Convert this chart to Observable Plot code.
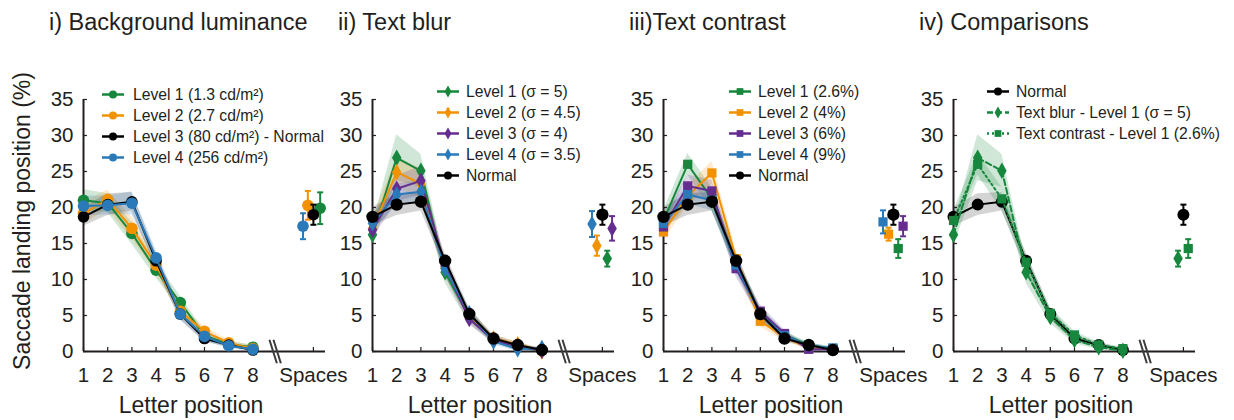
<!DOCTYPE html>
<html><head><meta charset="utf-8">
<script src="https://cdn.jsdelivr.net/npm/d3@7"></script>
<script src="https://cdn.jsdelivr.net/npm/@observablehq/plot@0.6"></script>
<style>
body{margin:0;background:#fff;font-family:"Liberation Sans",Arial,sans-serif;color:#231f20}
#root{position:relative;width:1234px;height:420px;overflow:hidden;background:#fff}
.abs{position:absolute;white-space:nowrap}
.title{font-size:23.5px;line-height:24px;top:10px}
.xlabel{font-size:23px;line-height:23px;top:394px;transform:translateX(-50%)}
.ylabel{font-size:23px;line-height:23px;left:22px;top:221px;transform:translate(-50%,-50%) rotate(-90deg)}
.leg{font-size:15.7px;line-height:21px}
.leg .row{position:relative;height:21px}
.leg svg{position:absolute;top:0}
.leg span{position:absolute;top:0}
</style></head><body><div id="root"></div><script>
// ---------- data ----------
const letterPositions = [1, 2, 3, 4, 5, 6, 7, 8];
const spacesLabel = "Spaces";
const yTicks = [0, 5, 10, 15, 20, 25, 30, 35];
const panelTitles = ["i) Background luminance", "ii) Text blur", "iii)Text contrast", "iv) Comparisons"];
const xAxisLabel = "Letter position";
const yAxisLabel = "Saccade landing position (%)";

// Normal (= Level 3 of background luminance)
const normal      = [18.7, 20.4, 20.8, 12.6, 5.2, 1.8, 0.9, 0.2];
const normalSE    = [1.3, 1.5, 1.3, 1.0, 0.8, 0.5, 0.3, 0.2];
const normalSpaces = [19.0, 1.4];

// i) Background luminance
const lum1   = [21.0, 20.6, 16.4, 11.3, 6.8, 2.2, 1.0, 0.6];
const lum1SE = [1.5, 1.3, 1.5, 1.1, 0.9, 0.6, 0.4, 0.3];
const lum1Spaces = [19.9, 2.2];
const lum2   = [19.2, 21.1, 17.1, 12.0, 5.6, 2.8, 1.2, 0.4];
const lum2SE = [1.5, 1.3, 1.5, 1.1, 0.8, 0.6, 0.4, 0.3];
const lum2Spaces = [20.3, 2.0];
const lum4   = [20.2, 20.3, 20.6, 13.0, 5.2, 2.1, 0.8, 0.3];
const lum4SE = [1.4, 1.3, 1.6, 1.1, 0.8, 0.6, 0.4, 0.3];
const lum4Spaces = [17.4, 1.8];

// ii) Text blur
const blur1   = [16.2, 26.9, 25.1, 11.0, 4.8, 1.6, 0.6, 0.1];
const blur1SE = [1.5, 3.2, 2.3, 1.5, 0.9, 0.5, 0.4, 0.2];
const blur1Spaces = [12.9, 1.1];
const blur2   = [17.1, 24.9, 23.3, 11.6, 5.0, 1.8, 1.0, 0.0];
const blur2SE = [1.3, 2.2, 2.0, 1.2, 0.8, 0.5, 0.4, 0.2];
const blur2Spaces = [14.7, 1.4];
const blur3   = [16.9, 22.6, 23.7, 11.8, 4.5, 1.6, 0.7, 0.1];
const blur3SE = [1.3, 1.8, 2.0, 1.2, 0.8, 0.5, 0.3, 0.2];
const blur3Spaces = [17.1, 1.7];
const blur4   = [17.8, 21.8, 22.2, 11.5, 5.3, 1.4, 0.3, 0.5];
const blur4SE = [1.2, 1.5, 1.5, 1.1, 0.8, 0.5, 0.3, 0.2];
const blur4Spaces = [17.7, 1.8];

// iii) Text contrast
const con1   = [18.2, 26.0, 21.2, 12.4, 5.3, 2.3, 0.9, 0.4];
const con1SE = [1.3, 1.5, 1.6, 1.2, 0.8, 0.5, 0.3, 0.2];
const con1Spaces = [14.3, 1.3];
const con2   = [16.6, 21.6, 24.8, 12.9, 4.2, 2.0, 0.5, 0.3];
const con2SE = [1.2, 1.4, 1.6, 1.2, 0.8, 0.5, 0.3, 0.2];
const con2Spaces = [16.3, 0.9];
const con3   = [17.3, 23.0, 22.3, 11.5, 5.6, 2.5, 0.3, 0.3];
const con3SE = [1.2, 1.5, 1.5, 1.2, 0.9, 0.5, 0.3, 0.2];
const con3Spaces = [17.4, 1.4];
const con4   = [17.8, 21.8, 21.0, 12.0, 5.2, 2.2, 0.8, 0.5];
const con4SE = [1.2, 1.4, 1.4, 1.1, 0.8, 0.5, 0.3, 0.2];
const con4Spaces = [18.0, 1.6];

// ---------- styles / layout ----------
const C = {green: "#16873d", orange: "#f39200", purple: "#662d91", blue: "#2a7ab9", black: "#000000"};
const spacesPos = 10.5;     // x position of the "Spaces" category
const breakPos = 8.92;      // axis break marker
const xDomain = [1, 11];
const yDomain = [0, 35];
const axisPx = [83, 372, 663, 953];
const ML = 50, MR = 8, MT = 99, MB = 69, H = 420, FW = 242;
const axisColor = "#231f20";

function ser(name, values, se, spaces, color, symbol, off, dash, r) {
  return {name, values, se, spaces, color, symbol, off, dash: dash || null, r};
}
const panels = [
  {legendTop: 84, legendDx: [17, 50], series: [
    ser("Level 1 (1.3 cd/m²)", lum1, lum1SE, lum1Spaces, C.green, "circle", 0.28, null, 5.8),
    ser("Level 2 (2.7 cd/m²)", lum2, lum2SE, lum2Spaces, C.orange, "circle", -0.23, null, 5.8),
    ser("Level 3 (80 cd/m²) - Normal", normal, normalSE, normalSpaces, C.black, "circle", 0, null, 5.8),
    ser("Level 4 (256 cd/m²)", lum4, lum4SE, lum4Spaces, C.blue, "circle", -0.43, null, 5.8)]},
  {legendTop: 81, legendDx: [63, 94], series: [
    ser("Level 1 (σ = 5)", blur1, blur1SE, blur1Spaces, C.green, "diamond", 0.2, null, 5),
    ser("Level 2 (σ = 4.5)", blur2, blur2SE, blur2Spaces, C.orange, "diamond", -0.23, null, 5),
    ser("Level 3 (σ = 4)", blur3, blur3SE, blur3Spaces, C.purple, "diamond", 0.4, null, 5),
    ser("Level 4 (σ = 3.5)", blur4, blur4SE, blur4Spaces, C.blue, "diamond", -0.43, null, 5),
    ser("Normal", normal, normalSE, normalSpaces, C.black, "circle", 0, null, 6.2)]},
  {legendTop: 81, legendDx: [64, 95], series: [
    ser("Level 1 (2.6%)", con1, con1SE, con1Spaces, C.green, "square", 0.2, null, 5.2),
    ser("Level 2 (4%)", con2, con2SE, con2Spaces, C.orange, "square", -0.2, null, 5.2),
    ser("Level 3 (6%)", con3, con3SE, con3Spaces, C.purple, "square", 0.4, null, 5.2),
    ser("Level 4 (9%)", con4, con4SE, con4Spaces, C.blue, "square", -0.43, null, 5.2),
    ser("Normal", normal, normalSE, normalSpaces, C.black, "circle", 0, null, 6.2)]},
  {legendTop: 81, legendDx: [32, 63], series: [
    ser("Normal", normal, normalSE, normalSpaces, C.black, "circle", 0, null, 6),
    ser("Text blur - Level 1 (σ = 5)", blur1, blur1SE, blur1Spaces, C.green, "diamond", -0.22, "6,3", 5),
    ser("Text contrast  - Level 1 (2.6%)", con1, con1SE, con1Spaces, C.green, "square", 0.2, "2,3", 5.2)]}
];

const capSymbol = {draw(ctx, size) { const w = Math.sqrt(size / Math.PI); ctx.moveTo(-w, 0); ctx.lineTo(w, 0); }};
const breakSymbol = {draw(ctx) { ctx.moveTo(-5.7, -11.7); ctx.lineTo(1.7, 11.7); ctx.moveTo(-1.7, -11.7); ctx.lineTo(5.7, 11.7); }};

const root = document.getElementById("root");
const xTickValues = [...letterPositions, spacesPos];

panels.forEach((p, i) => {
  const marks = [];
  const rowsOf = s => s.values.map((v, k) => ({x: letterPositions[k], y: v, lo: v - s.se[k], hi: v + s.se[k]}));
  // confidence bands
  p.series.forEach(s => marks.push(Plot.areaY(rowsOf(s), {x: "x", y1: "lo", y2: "hi", fill: s.color, fillOpacity: s.color === C.black ? 0.17 : 0.2})));
  // axes lines and inward ticks
  marks.push(Plot.ruleY([0], {stroke: axisColor, strokeWidth: 2}));
  marks.push(Plot.ruleX([xDomain[0]], {stroke: axisColor, strokeWidth: 2}));
  marks.push(Plot.ruleX(xTickValues, {x: d => d, stroke: axisColor, strokeWidth: 1.2, insetTop: (H - MT - MB) - 4}));
  marks.push(Plot.ruleY(yTicks, {y: d => d, stroke: axisColor, strokeWidth: 1.2, insetRight: FW - 4}));
  marks.push(Plot.dot([breakPos], {x: d => d, y: () => 0, symbol: breakSymbol, r: 1, stroke: "#3c3c3c", strokeWidth: 2, fill: "none"}));
  marks.push(Plot.axisX(xTickValues, {tickSize: 0, tickPadding: 16, tickFormat: d => d === spacesPos ? spacesLabel : d, label: null}));
  marks.push(Plot.axisY(yTicks, {tickSize: 0, tickPadding: 10, label: null}));
  // lines, points, spaces
  p.series.forEach(s => {
    const rows = rowsOf(s);
    marks.push(Plot.line(rows, {x: "x", y: "y", stroke: s.color, strokeWidth: 2, strokeDasharray: s.dash}));
    marks.push(Plot.dot(rows, {x: "x", y: "y", symbol: s.symbol, r: s.r, fill: s.color, stroke: "none"}));
    const sp = [{x: spacesPos + s.off, y: s.spaces[0], lo: s.spaces[0] - s.spaces[1], hi: s.spaces[0] + s.spaces[1]}];
    marks.push(Plot.ruleX(sp, {x: "x", y1: "lo", y2: "hi", stroke: s.color, strokeWidth: 2}));
    marks.push(Plot.dot(sp, {x: "x", y: "lo", symbol: capSymbol, r: 3, stroke: s.color, strokeWidth: 2}));
    marks.push(Plot.dot(sp, {x: "x", y: "hi", symbol: capSymbol, r: 3, stroke: s.color, strokeWidth: 2}));
    marks.push(Plot.dot(sp, {x: "x", y: "y", symbol: s.symbol, r: s.r, fill: s.color, stroke: "none"}));
  });
  const svg = Plot.plot({
    width: ML + FW + MR, height: H,
    marginLeft: ML, marginRight: MR, marginTop: MT, marginBottom: MB,
    x: {domain: xDomain}, y: {domain: yDomain},
    style: {background: "transparent", overflow: "visible", fontSize: "20.5px", fontFamily: "'Liberation Sans', Arial, sans-serif", color: axisColor},
    marks
  });
  svg.style.position = "absolute";
  svg.style.left = (axisPx[i] - ML) + "px";
  svg.style.top = "0px";
  root.appendChild(svg);

  const t = document.createElement("div");
  t.className = "abs title"; t.textContent = panelTitles[i];
  t.style.left = (axisPx[i] - 34) + "px";
  root.appendChild(t);

  const xl = document.createElement("div");
  xl.className = "abs xlabel"; xl.textContent = xAxisLabel;
  xl.style.left = (axisPx[i] + 108) + "px";
  root.appendChild(xl);

  // legend
  const lg = document.createElement("div");
  lg.className = "abs leg";
  lg.style.left = (axisPx[i] + p.legendDx[0]) + "px";
  lg.style.top = p.legendTop + "px";
  const textDx = p.legendDx[1] - p.legendDx[0];
  p.series.forEach(s => {
    const row = document.createElement("div"); row.className = "row";
    const sw = d3.create("svg").attr("width", 26).attr("height", 21);
    sw.append("line").attr("x1", 2).attr("x2", 24).attr("y1", 10.5).attr("y2", 10.5)
      .attr("stroke", s.color).attr("stroke-width", 2.5).attr("stroke-dasharray", s.dash);
    const symType = s.symbol === "diamond" ? d3.symbolDiamond : s.symbol === "square" ? d3.symbolSquare : d3.symbolCircle;
    const sr = s.symbol === "circle" ? 4 : s.symbol === "diamond" ? 3.6 : 3.8;
    sw.append("path").attr("transform", "translate(13,10.5)").attr("d", d3.symbol(symType, sr * sr * Math.PI)()).attr("fill", s.color);
    row.appendChild(sw.node());
    const sp = document.createElement("span"); sp.textContent = s.name; sp.style.left = textDx + "px";
    row.appendChild(sp);
    lg.appendChild(row);
  });
  root.appendChild(lg);
});

const yl = document.createElement("div");
yl.className = "abs ylabel"; yl.textContent = yAxisLabel;
root.appendChild(yl);
</script></body></html>
